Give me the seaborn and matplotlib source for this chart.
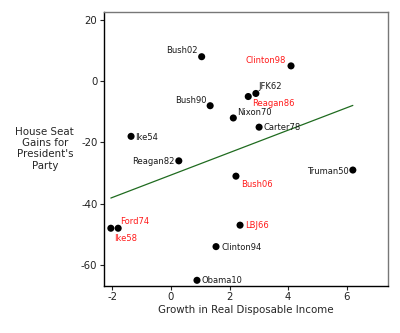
import matplotlib
matplotlib.use("Agg")
import matplotlib.pyplot as plt
import seaborn as sns
import pandas as pd

# Midterm elections: income growth vs. House seat change for the president's party
labels = ["Bush02", "Clinton98", "JFK62", "Reagan86", "Bush90", "Nixon70",
          "Carter78", "Ike54", "Reagan82", "Bush06", "Truman50", "Ford74",
          "Ike58", "LBJ66", "Clinton94", "Obama10"]
income_growth = [1.05, 4.10, 2.90, 2.64, 1.34, 2.13,
                 3.01, -1.36, 0.27, 2.22, 6.21, -1.80,
                 -2.05, 2.36, 1.54, 0.89]
seat_change = [8, 5, -4, -5, -8, -12,
               -15, -18, -26, -31, -29, -48,
               -48, -47, -54, -65]
second_term = [False, True, False, True, False, False,
               False, False, False, True, False, True,
               True, True, False, False]

x_ticks = [-2, 0, 2, 4, 6]
y_ticks = [20, 0, -20, -40, -60]

# label placement: (dx, dy) in pixels, horizontal alignment
label_offsets = {
    "Bush02": (-4, 6, "right"), "Clinton98": (-5, 5, "right"),
    "JFK62": (3, 7, "left"), "Reagan86": (4, -7, "left"),
    "Bush90": (-4, 5, "right"), "Nixon70": (4, 5, "left"),
    "Carter78": (4, 0, "left"), "Ike54": (4, -1, "left"),
    "Reagan82": (-4, -1, "right"), "Bush06": (5, -8, "left"),
    "Truman50": (-4, -1, "right"), "Ford74": (2, 7, "left"),
    "Ike58": (3, -10, "left"), "LBJ66": (5, 0, "left"),
    "Clinton94": (5, -1, "left"), "Obama10": (5, 0, "left"),
}

df = pd.DataFrame({"label": labels, "x": income_growth, "y": seat_change,
                   "second": second_term})

sns.set_style("white")
plt.rcParams["font.family"] = ["DejaVu Sans"]

fig = plt.figure(figsize=(4.0, 3.33), dpi=100)
ax = fig.add_axes([0.261, 0.1426, 0.709, 0.8214])

sns.regplot(data=df, x="x", y="y", scatter=False, ci=None, ax=ax,
            line_kws={"color": "#1f6b1f", "linewidth": 0.9})
sns.scatterplot(data=df, x="x", y="y", color="black", s=26,
                edgecolor="none", ax=ax, zorder=3)

for _, row in df.iterrows():
    dx, dy, ha = label_offsets[row["label"]]
    ax.annotate(row["label"], (row["x"], row["y"]),
                xytext=(dx, dy), textcoords="offset pixels",
                ha=ha, va="center", fontsize=6.0,
                color="#ff1a1a" if row["second"] else "#1a1a1a")

ax.set_xlim(-2.27, 7.41)
ax.set_ylim(-66.7, 22.6)
ax.set_xticks(x_ticks)
ax.set_yticks(y_ticks)
ax.set_xticklabels([str(t) if t >= 0 else "-" + str(-t) for t in x_ticks])
ax.set_yticklabels([str(t) if t >= 0 else "-" + str(-t) for t in y_ticks])
ax.tick_params(axis="both", direction="out", length=3, width=0.8,
               labelsize=7.3, pad=2, colors="#222222", bottom=True, left=True)

for side in ["left", "bottom"]:
    ax.spines[side].set_color("black")
    ax.spines[side].set_linewidth(1.0)
for side in ["top", "right"]:
    ax.spines[side].set_color("#777777")
    ax.spines[side].set_linewidth(1.0)

ax.set_xlabel("Growth in Real Disposable Income", fontsize=7.4, labelpad=1.5)
ax.set_ylabel("House Seat\nGains for\nPresident's\nParty", fontsize=7.4,
              rotation=0, ha="center", va="center", linespacing=1.15)
ax.yaxis.set_label_coords(-0.21, 0.5)

fig.savefig("out.png", dpi=100)
